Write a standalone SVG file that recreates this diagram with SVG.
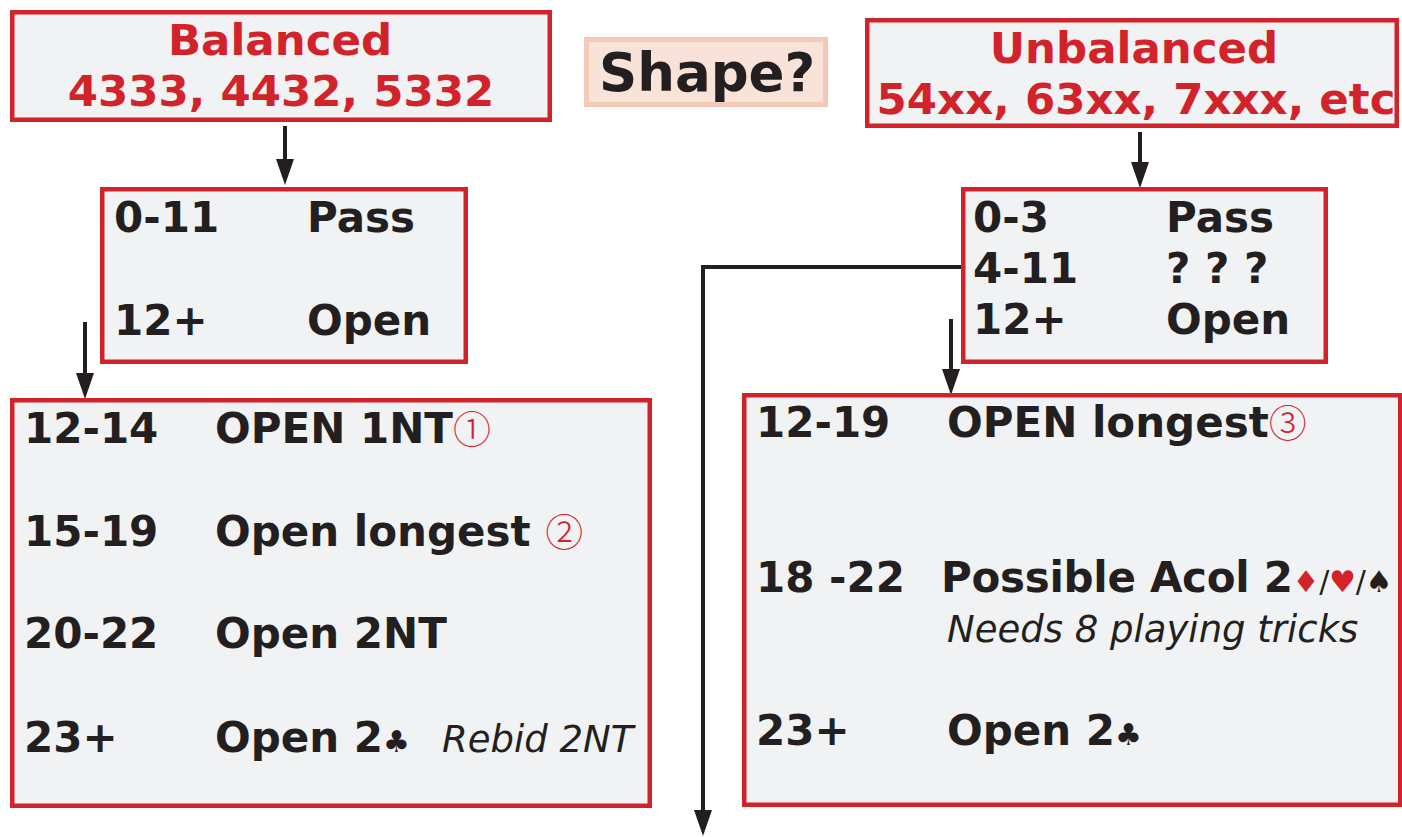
<svg xmlns="http://www.w3.org/2000/svg" width="1402" height="837" viewBox="0 0 1402 837">
<style>
.box{fill:#f1f2f4;stroke:#d2232a;stroke-width:4.5}
.shape{fill:#f9e3d9;stroke:#f3c9b8;stroke-width:5}
.t{font-family:"DejaVu Sans","Noto Sans",sans-serif;font-weight:bold;font-size:42px;fill:#231f20}
.h{font-size:43.5px}
.r{fill:#d2232a}
.c{text-anchor:middle}
.it{font-family:"DejaVu Sans","Noto Sans",sans-serif;font-style:italic;font-weight:normal;font-size:37px;fill:#231f20}
.circ{font-family:"Noto Sans CJK SC","DejaVu Sans",sans-serif;font-weight:300;fill:#d2232a;font-size:38px}
.suit{font-weight:normal;font-size:30px}
.sl{font-weight:normal;font-size:30px}
.ln{fill:none;stroke:#231f20;stroke-width:4}
</style>
<defs>
<marker id="ah" viewBox="0 0 26 18" refX="16" refY="9" markerWidth="26" markerHeight="18" markerUnits="userSpaceOnUse" orient="auto">
<path d="M0,0 L26,9 L0,18 Z" fill="#231f20"/>
</marker>
</defs>
<g id="connectors">
<line class="ln" x1="285" y1="126" x2="285" y2="175" marker-end="url(#ah)"/>
<line class="ln" x1="85" y1="322" x2="85" y2="389" marker-end="url(#ah)"/>
<line class="ln" x1="1140" y1="132" x2="1140" y2="178" marker-end="url(#ah)"/>
<line class="ln" x1="951" y1="319" x2="951" y2="385" marker-end="url(#ah)"/>
<polyline class="ln" points="961,267 703,267 703,826" marker-end="url(#ah)"/>
</g>
<g id="balanced">
<rect class="box" x="12.25" y="12.25" width="537.5" height="107.5"/>
<text class="t h r c" x="280" y="55">Balanced</text>
<text class="t h r c" x="281" y="106">4333, 4432, 5332</text>
</g>
<g id="shape">
<rect class="shape" x="586.5" y="39.5" width="239" height="65"/>
<text class="t" x="599" y="91" style="font-size:53px">Shape?</text>
</g>
<g id="unbalanced">
<rect class="box" x="867.25" y="20.25" width="529.5" height="105.5"/>
<text class="t h r c" x="1134" y="63">Unbalanced</text>
<text class="t h r c" x="1136" y="114">54xx, 63xx, 7xxx, etc</text>
</g>
<g id="bal-points">
<rect class="box" x="102.25" y="189.25" width="363.5" height="172.5"/>
<text class="t" x="114" y="232">0-11</text>
<text class="t" x="307" y="232">Pass</text>
<text class="t" x="114" y="335">12+</text>
<text class="t" x="307" y="335">Open</text>
</g>
<g id="bal-openings">
<rect class="box" x="12.25" y="400.25" width="637.5" height="405.5"/>
<text class="t" x="24" y="443">12-14</text>
<text class="t" x="215" y="443">OPEN 1NT<tspan class="circ">①</tspan></text>
<text class="t" x="24" y="546">15-19</text>
<text class="t" x="215" y="546">Open longest <tspan class="circ">②</tspan></text>
<text class="t" x="24" y="648">20-22</text>
<text class="t" x="215" y="648">Open 2NT</text>
<text class="t" x="24" y="752">23+</text>
<text class="t" x="215" y="752">Open 2<tspan class="suit">♣</tspan></text>
<text class="it" x="442" y="752">Rebid 2NT</text>
</g>
<g id="unbal-points">
<rect class="box" x="963.25" y="189.25" width="362.5" height="172.5"/>
<text class="t" x="973" y="232">0-3</text>
<text class="t" x="1166" y="232">Pass</text>
<text class="t" x="973" y="283">4-11</text>
<text class="t" x="1166" y="283">? ? ?</text>
<text class="t" x="973" y="334">12+</text>
<text class="t" x="1166" y="334">Open</text>
</g>
<g id="unbal-openings">
<rect class="box" x="744.25" y="395.25" width="656" height="409.5"/>
<text class="t" x="756" y="437">12-19</text>
<text class="t" x="947" y="437">OPEN longest<tspan class="circ">③</tspan></text>
<text class="t" x="756" y="592">18 -22</text>
<text class="t" x="941" y="592" letter-spacing="-0.3">Possible Acol 2<tspan class="suit r">♦</tspan><tspan class="sl">/</tspan><tspan class="suit r">♥</tspan><tspan class="sl">/</tspan><tspan class="suit">♠</tspan></text>
<text class="it" x="947" y="642">Needs 8 playing tricks</text>
<text class="t" x="756" y="745">23+</text>
<text class="t" x="947" y="745">Open 2<tspan class="suit">♣</tspan></text>
</g>
</svg>
